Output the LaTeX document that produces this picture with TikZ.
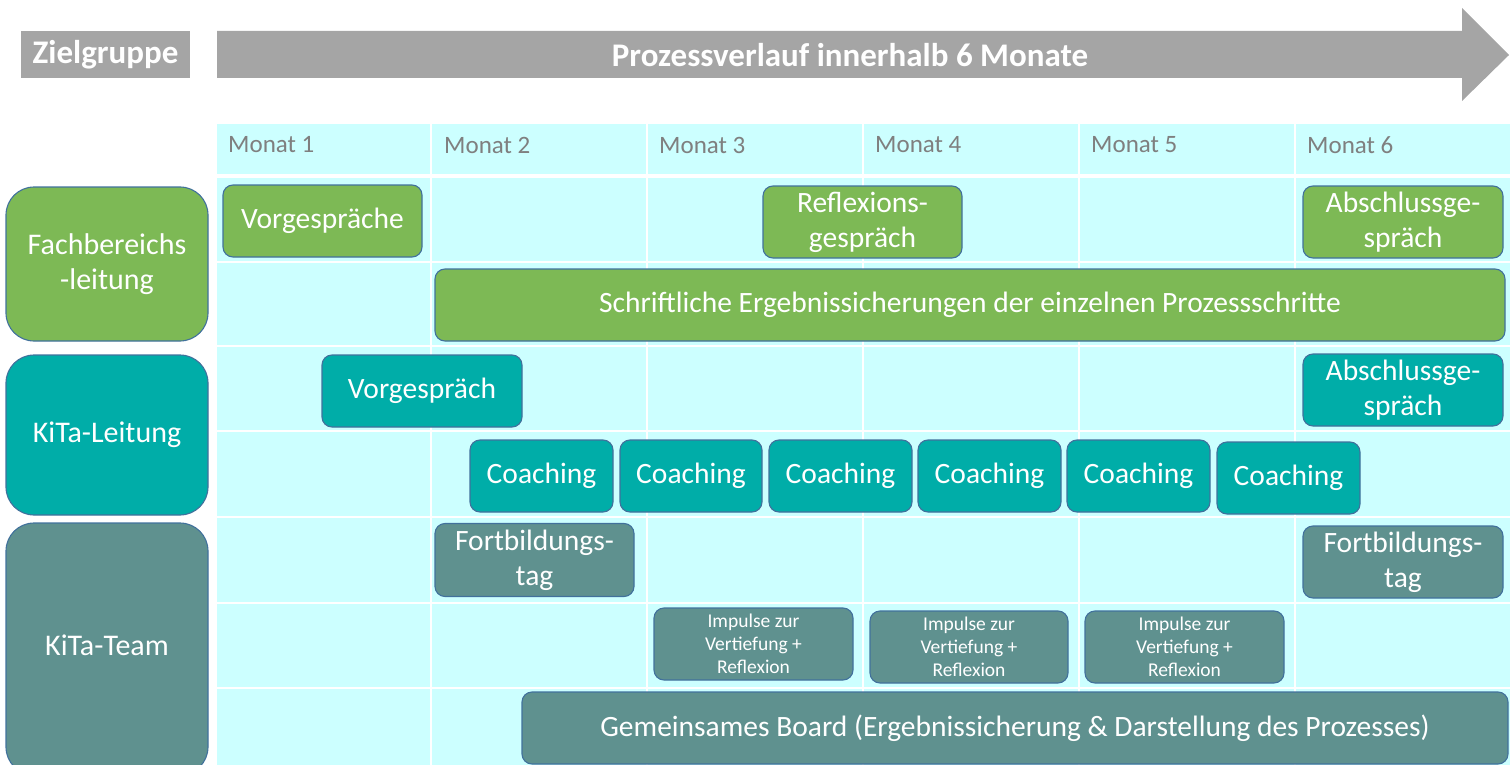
\documentclass[tikz,border=0pt]{standalone}
\usepackage{fontspec}
\setmainfont{Carlito}
\definecolor{hgray}{HTML}{A5A5A5}
\definecolor{fgreen}{HTML}{7DB955}
\definecolor{kteal}{HTML}{00ADA8}
\definecolor{tgray}{HTML}{5F918F}
\definecolor{gridc}{HTML}{CCFFFF}
\definecolor{bordc}{HTML}{41719C}
\definecolor{mgray}{HTML}{7F7F7F}
\tikzset{
  pbox/.style={rounded corners=10pt, draw=bordc, line width=1.1pt, text=white,
    font=\fontsize{29.5}{35}\selectfont, align=center, inner sep=0pt},
  gbox/.style={pbox, fill=fgreen},
  tbox/.style={pbox, fill=kteal},
  kbox/.style={pbox, fill=tgray},
  lbl/.style={rounded corners=28pt, draw=bordc, line width=1.1pt, text=white,
    font=\fontsize{30}{35}\selectfont, align=center, inner sep=0pt},
  mon/.style={anchor=west, text=mgray, font=\fontsize{25}{28}\selectfont, inner sep=0pt},
  head/.style={text=white, font=\bfseries\fontsize{33}{36}\selectfont, inner sep=0pt},
  small/.style={font=\fontsize{19.5}{23}\selectfont},
  wline/.style={draw=white, line width=2pt}
}
\begin{document}
\begin{tikzpicture}[x=1pt,y=-1pt]
\useasboundingbox (0,0) rectangle (1510,765);
\clip (0,0) rectangle (1510,765);
% header
\fill[hgray] (21,31) rectangle (190,78);
\node[head] (zg) at (105.5,55) {Zielgruppe};
\fill[hgray] (217,31) -- (1462,31) -- (1462,8) -- (1509,55) -- (1462,101) -- (1462,78) -- (217,78) -- cycle;
\node[head] (pv) at (850,55) {Prozessverlauf innerhalb 6 Monate};
% grid
\fill[gridc] (217,124) rectangle (1510,765);
\foreach \x in {431,647,863,1079,1295} \draw[wline] (\x,124) -- (\x,765);
\draw[draw=white, line width=4pt] (217,176) -- (1510,176);
\foreach \y in {262,346,431,517,603,688} \draw[wline] (217,\y) -- (1510,\y);
\node[mon] (m1) at (228,145) {Monat 1};
\node[mon] (m2) at (444,145) {Monat 2};
\node[mon] (m3) at (659,145) {Monat 3};
\node[mon] (m4) at (875,145) {Monat 4};
\node[mon] (m5) at (1091,145) {Monat 5};
\node[mon] (m6) at (1307,145) {Monat 6};
% left labels
\node[lbl, fill=fgreen, minimum width=202pt, minimum height=154pt] (fb) at (107,264) {Fachbereichs\\-leitung};
\node[lbl, fill=kteal, minimum width=202pt, minimum height=160pt] (kl) at (107,435) {KiTa-Leitung};
\node[lbl, fill=tgray, minimum width=202pt, minimum height=252pt] (kt) at (107,649) {};
\node[text=white, font=\fontsize{30}{35}\selectfont] (ktt) at (107,645) {KiTa-Team};
% Fachbereichsleitung rows
\node[gbox, minimum width=199pt, minimum height=72pt] (vg1) at (322.5,221) {Vorgespräche};
\node[gbox, minimum width=199pt, minimum height=72pt] (rg) at (862.5,222) {Reflexions-\\gespräch};
\node[gbox, minimum width=200pt, minimum height=72pt] (ag1) at (1403,222) {Abschlussge-\\spräch};
\node[gbox, minimum width=1070pt, minimum height=72pt] (se) at (970,305) {Schriftliche Ergebnissicherungen der einzelnen Prozessschritte};
% KiTa-Leitung rows
\node[tbox, minimum width=200pt, minimum height=72pt] (vg2) at (422,391) {Vorgespräch};
\node[tbox, minimum width=200pt, minimum height=72pt] (ag2) at (1403,390) {Abschlussge-\\spräch};
\node[tbox, minimum width=143pt, minimum height=72pt] (c1) at (541.5,476) {Coaching};
\node[tbox, minimum width=142pt, minimum height=72pt] (c2) at (691,476) {Coaching};
\node[tbox, minimum width=143pt, minimum height=72pt] (c3) at (840.5,476) {Coaching};
\node[tbox, minimum width=143pt, minimum height=72pt] (c4) at (989.5,476) {Coaching};
\node[tbox, minimum width=143pt, minimum height=72pt] (c5) at (1138.5,476) {Coaching};
\node[tbox, minimum width=143pt, minimum height=72pt] (c6) at (1288.5,478) {Coaching};
% KiTa-Team rows
\node[kbox, minimum width=199pt, minimum height=73pt] (ft1) at (534.5,560) {Fortbildungs-\\tag};
\node[kbox, minimum width=200pt, minimum height=72pt] (ft2) at (1403,562) {Fortbildungs-\\tag};
\node[kbox, small, minimum width=199pt, minimum height=72pt] (ip1) at (753.5,644) {Impulse zur\\Vertiefung +\\Reflexion};
\node[kbox, small, minimum width=198pt, minimum height=72pt] (ip2) at (969,647) {Impulse zur\\Vertiefung +\\Reflexion};
\node[kbox, small, minimum width=199pt, minimum height=72pt] (ip3) at (1184.5,647) {Impulse zur\\Vertiefung +\\Reflexion};
\node[kbox, minimum width=986pt, minimum height=72pt] (gb) at (1015,728) {Gemeinsames Board (Ergebnissicherung \& Darstellung des Prozesses)};
\end{tikzpicture}
\end{document}
